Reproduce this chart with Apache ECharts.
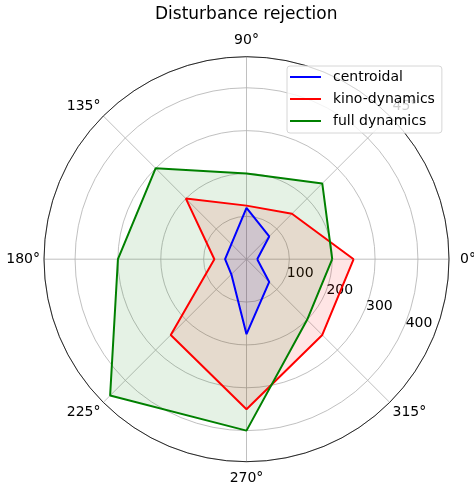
<!DOCTYPE html>
<html>
<head>
<meta charset="utf-8">
<script src="https://cdn.jsdelivr.net/npm/echarts@6/dist/echarts.min.js"></script>
<style>
  html, body { margin: 0; padding: 0; background: #fff; }
  #main { width: 474px; height: 490px; }
</style>
</head>
<body>
<div id="main"></div>
<script>
// angles in degrees, closed back at 360
const angles = [0, 45, 90, 135, 180, 225, 270, 315, 360]
const centroidal = [25, 75, 120, 50, 50, 50, 175, 75]
const kinoDynamics = [250, 150, 125, 200, 75, 250, 350, 250]
const fullDynamics = [200, 250, 200, 300, 300, 450, 400, 200]
const rTicks = [100, 200, 300, 400]
const rMax = 472.5

const font = 'DejaVu Sans'
const center = [246.5, 259.2]
const radius = 202.5

function toPolar(vals) {
  // repeat the first value to close the polygon
  return angles.map((a, i) => [vals[i % vals.length], a])
}

function makeSeries(name, color, vals) {
  return {
    name: name,
    type: 'line',
    coordinateSystem: 'polar',
    polarIndex: 0,
    symbol: 'none',
    data: toPolar(vals),
    lineStyle: { color: color, width: 2 },
    itemStyle: { color: color },
    areaStyle: { color: color, opacity: 0.1 }
  }
}

const angleRich = {
  r: { padding: [0, 0, 0, 7] },
  t: { padding: [0, 0, 5, 0] },
  b: { padding: [6, 0, 0, 0] }
}

const option = {
  backgroundColor: '#fff',
  animation: false,
  textStyle: { fontFamily: font },
  title: {
    text: 'Disturbance rejection',
    left: 150,
    top: 1,
    textStyle: { fontFamily: font, fontSize: 17, fontWeight: 'normal', color: '#000' }
  },
  legend: {
    orient: 'vertical',
    left: 287,
    top: 66,
    padding: [4, 7, 5, 3],
    itemGap: 8,
    itemWidth: 31,
    itemHeight: 2,
    icon: 'rect',
    backgroundColor: 'rgba(255,255,255,0.8)',
    borderColor: '#d6d6d6',
    borderWidth: 1,
    borderRadius: 3,
    textStyle: { fontFamily: font, fontSize: 14, color: '#000', padding: [0, 0, 0, 7] },
    data: ['centroidal', 'kino-dynamics', 'full dynamics']
  },
  polar: [
    { center: center, radius: radius },
    { center: center, radius: radius }
  ],
  angleAxis: [
    {
      polarIndex: 0,
      type: 'value',
      min: 0,
      max: 360,
      interval: 45,
      startAngle: 0,
      clockwise: false,
      axisLine: { show: true, lineStyle: { color: '#000', width: 0.8 } },
      axisTick: { show: false },
      splitLine: { show: true, lineStyle: { color: '#b0b0b0', width: 0.8 } },
      axisLabel: {
        margin: 4,
        fontFamily: font,
        fontSize: 14,
        color: '#000',
        formatter: function (v) {
          if (v === 0) return '{r|0°}'
          if (v === 90) return '{t|90°}'
          if (v === 270) return '{b|270°}'
          return v + '°'
        },
        rich: angleRich
      }
    },
    {
      polarIndex: 1,
      type: 'value',
      min: 0,
      max: 360,
      startAngle: -22.5,
      clockwise: false,
      axisLine: { show: false },
      axisTick: { show: false },
      axisLabel: { show: false },
      splitLine: { show: false }
    }
  ],
  radiusAxis: [
    {
      polarIndex: 0,
      type: 'value',
      min: 0,
      max: rMax,
      interval: 100,
      axisLine: { show: false },
      axisTick: { show: false },
      axisLabel: { show: false },
      splitLine: { show: true, lineStyle: { color: '#b0b0b0', width: 0.8 } }
    },
    {
      polarIndex: 1,
      type: 'value',
      min: 0,
      max: rMax,
      interval: 100,
      axisLine: { show: false },
      axisTick: { show: false },
      splitLine: { show: false },
      axisLabel: {
        margin: 2,
        fontFamily: font,
        fontSize: 14,
        color: '#000',
        formatter: function (v) { return rTicks.indexOf(v) >= 0 ? String(v) : '' }
      }
    }
  ],
  series: [
    makeSeries('centroidal', '#0000ff', centroidal),
    makeSeries('kino-dynamics', '#ff0000', kinoDynamics),
    makeSeries('full dynamics', '#008000', fullDynamics)
  ]
}

const chart = echarts.init(document.getElementById('main'))
chart.setOption(option)
</script>
</body>
</html>
